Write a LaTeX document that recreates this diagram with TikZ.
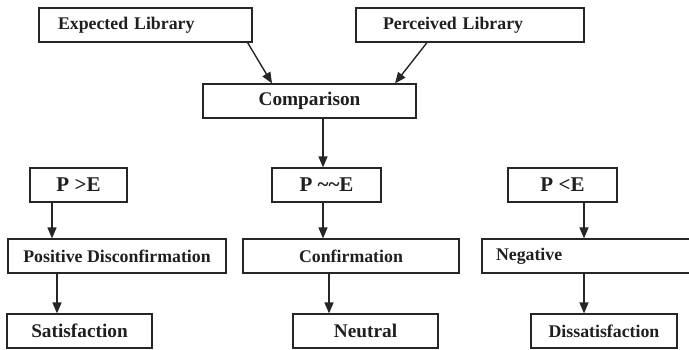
\documentclass[tikz,border=0pt]{standalone}
\usepackage{fontspec}
\setmainfont{Liberation Serif}
\usetikzlibrary{arrows.meta,calc}
\tikzset{
  box/.style={draw=black!85, line width=1.2pt, minimum height=34pt, inner sep=0pt,
    font=\bfseries\fontsize{17.8}{20}\selectfont, text=black!88},
  bigtxt/.style={font=\bfseries\fontsize{19.3}{22}\selectfont},
  reltxt/.style={font=\bfseries\fontsize{21}{24}\selectfont},
  lefttxt/.style={align=left, text width=#1},
  arr/.style={draw=black!85, line width=1.4pt, -{Triangle[length=11pt,width=9pt]}}
}
\begin{document}
\begin{tikzpicture}[x=1pt,y=-1pt]
  \clip (0,0) rectangle (689,350);
  \fill[white] (0,0) rectangle (689,350);

  % inputs
  \node[box, minimum width=213pt, inner xsep=19pt, lefttxt=175pt] (exp) at (145.5,25) {Expected Library};
  \node[box, minimum width=228pt, inner xsep=27pt, lefttxt=174pt] (perc) at (470,25) {Perceived Library};
  \node[box, bigtxt, minimum width=213pt] (comp) at (309.5,101) {Comparison};

  % relations between P and E
  \node[box, reltxt, minimum width=97pt] (pge) at (78.5,185) {P >E};
  \node[box, reltxt, minimum width=109pt] (peq) at (326.5,185) {P \textasciitilde\textasciitilde E};
  \node[box, reltxt, minimum width=109pt] (plt) at (562.5,185) {P <E};

  % (dis)confirmation
  \node[box, minimum width=218pt] (posd) at (117,256) {Positive Disconfirmation};
  \node[box, minimum width=216pt] (conf) at (351,256) {Confirmation};
  \node[box, minimum width=218pt, inner xsep=14pt, lefttxt=190pt] (neg) at (591,256) {Negative};

  % outcomes
  \node[box, bigtxt, minimum width=145pt] (sat) at (79.5,331) {Satisfaction};
  \node[box, bigtxt, minimum width=145pt] (neu) at (365.5,331) {Neutral};
  \node[box, minimum width=146pt] (dis) at (604,331) {Dissatisfaction};

  % connectors
  \draw[arr] ([xshift=-5pt]exp.south east) -- ([xshift=-37.5pt]comp.north);
  \draw[arr] ([xshift=-43pt]perc.south) -- ([xshift=85.5pt]comp.north);
  \draw[arr] ([xshift=13.5pt]comp.south) -- ([xshift=13.5pt]comp.south |- peq.north);

  \draw[arr] ([xshift=-26.5pt]pge.south) -- ([xshift=-26.5pt]pge.south |- posd.north);
  \draw[arr] ([xshift=-60pt]posd.south) -- ([xshift=-60pt]posd.south |- sat.north);

  \draw[arr] ([xshift=-3.5pt]peq.south) -- ([xshift=-3.5pt]peq.south |- conf.north);
  \draw[arr] ([xshift=-22pt]conf.south) -- ([xshift=-22pt]conf.south |- neu.north);

  \draw[arr] ([xshift=21.5pt]plt.south) -- ([xshift=21.5pt]plt.south |- neg.north);
  \draw[arr] ([xshift=21.5pt]plt.south |- neg.south) -- ([xshift=21.5pt]plt.south |- dis.north);
\end{tikzpicture}
\end{document}
